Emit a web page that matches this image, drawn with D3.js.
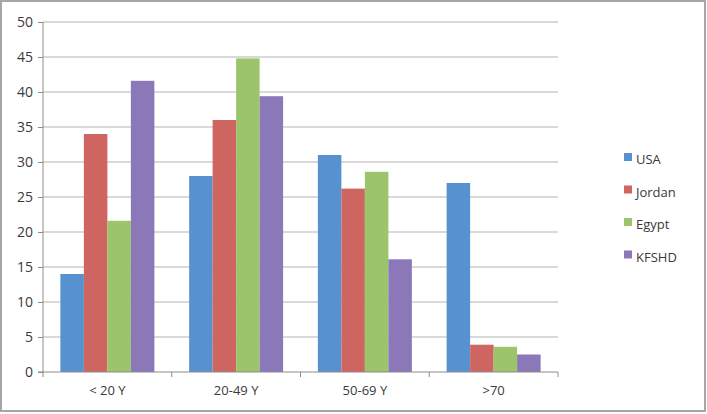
<!DOCTYPE html>
<html>
<head>
<meta charset="utf-8">
<script src="https://cdn.jsdelivr.net/npm/d3@7"></script>
<style>
  html, body { margin:0; padding:0; background:#fff; }
  svg { display:block; font-family: "Open Sans", "Liberation Sans", sans-serif; }
</style>
</head>
<body>
<svg id="chart" width="707" height="414"></svg>
<script>
// chart data
const categories = ['< 20 Y', '20-49 Y', '50-69 Y', '>70'];
const seriesNames = ['USA', 'Jordan', 'Egypt', 'KFSHD'];
const usa    = [14, 28, 31, 27];
const jordan = [34, 36, 26.2, 3.9];
const egypt  = [21.6, 44.8, 28.6, 3.6];
const kfshd  = [41.6, 39.4, 16.1, 2.5];
const yTicks = [0, 5, 10, 15, 20, 25, 30, 35, 40, 45, 50];

const colors = ['#5891cf', '#cf6561', '#9cc56b', '#8b78b9'];
const values = [usa, jordan, egypt, kfshd];

const W = 707, H = 414;
const margin = {left: 43, right: 149, top: 22, bottom: 42};
const svg = d3.select('#chart');

// outer frame
svg.append('rect').attr('x',1).attr('y',1).attr('width',W-3).attr('height',H-4)
  .attr('fill','#fff').attr('stroke','#a6a6a6').attr('stroke-width',2);

const x = d3.scaleBand().domain(categories).range([margin.left, W - margin.right]).paddingInner(0).paddingOuter(0);
const x1 = d3.scaleBand().domain(seriesNames).range([0, x.bandwidth()]).paddingInner(0).paddingOuter(0.74);
const y = d3.scaleLinear().domain([0, 50]).range([H - margin.bottom, margin.top]);

// gridlines
svg.append('g').selectAll('line').data(yTicks.filter(d => d > 0)).join('line')
  .attr('x1', margin.left).attr('x2', W - margin.right)
  .attr('y1', d => y(d)).attr('y2', d => y(d))
  .attr('stroke', '#b3b3b3').attr('stroke-width', 1.2);

// bars
const rows = categories.map((c, i) => ({cat: c, vals: seriesNames.map((s, j) => ({s, v: values[j][i], color: colors[j]}))}));
svg.append('g').selectAll('g').data(rows).join('g')
  .attr('transform', d => `translate(${x(d.cat)},0)`)
  .selectAll('rect').data(d => d.vals).join('rect')
  .attr('x', d => x1(d.s)).attr('width', x1.bandwidth())
  .attr('y', d => y(d.v)).attr('height', d => y(0) - y(d.v))
  .attr('fill', d => d.color);

// y axis
const yAxis = svg.append('g').attr('transform', `translate(${margin.left},0)`)
  .call(d3.axisLeft(y).tickValues(yTicks).tickSize(5).tickPadding(5));
yAxis.selectAll('line, path').attr('stroke', '#8c8c8c');
yAxis.select('.domain').attr('d', `M0,${y(0)}V${y(50)}`);
yAxis.selectAll('text').attr('font-size', 14).attr('fill', '#3a3a3a').attr('font-family', '"Open Sans", sans-serif');

// x axis
const xAxis = svg.append('g').attr('transform', `translate(0,${y(0)})`);
xAxis.append('line').attr('x1', margin.left - 5).attr('x2', W - margin.right)
  .attr('stroke', '#8c8c8c');
xAxis.selectAll('line.tk').data(d3.range(categories.length + 1)).join('line').attr('class','tk')
  .attr('x1', i => margin.left + i * x.bandwidth()).attr('x2', i => margin.left + i * x.bandwidth())
  .attr('y1', 0).attr('y2', 5).attr('stroke', '#8c8c8c');
xAxis.selectAll('text').data(categories).join('text')
  .attr('x', d => x(d) + x.bandwidth() / 2).attr('y', 23)
  .attr('text-anchor', 'middle').attr('font-size', 13).attr('fill', '#3a3a3a')
  .text(d => d);

// legend
const legend = svg.append('g').selectAll('g').data(seriesNames).join('g')
  .attr('transform', (d, i) => `translate(624,${160 + i * 32.5})`);
legend.append('rect').attr('x', 0).attr('y', -7).attr('width', 8).attr('height', 8)
  .attr('fill', (d, i) => colors[i]);
legend.append('text').attr('x', 12).attr('y', 0).attr('dy', '0.32em').attr('font-size', 13)
  .attr('fill', '#3a3a3a').text(d => d);
</script>
</body>
</html>
